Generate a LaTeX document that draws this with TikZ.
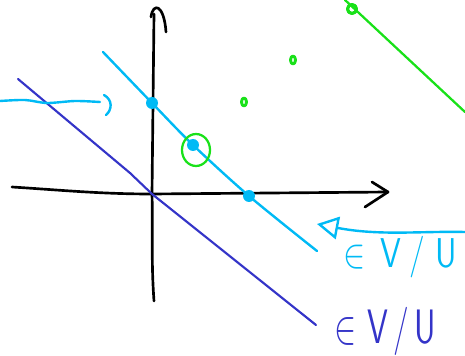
\documentclass[tikz,border=0pt]{standalone}
\usepackage{amsmath, amssymb}
\usetikzlibrary{arrows.meta}

\definecolor{skyline}{RGB}{0,186,245}
\definecolor{inkblue}{RGB}{52,52,200}
\definecolor{markgreen}{RGB}{25,225,25}

\begin{document}
\begin{tikzpicture}[x=0.75pt, y=-0.75pt, line cap=round, line join=round,
    axisline/.style={black, line width=2pt},
    skypen/.style={skyline, line width=1.8pt},
    inkpen/.style={inkblue, line width=1.6pt},
    greenpen/.style={markgreen, line width=1.7pt},
    skydot/.style={fill=skyline, draw=none},
    sktext/.style={font=\sffamily\fontsize{25}{25}\selectfont, inner sep=0pt, transform shape}]
    \useasboundingbox (0,0) rectangle (465,356);

    % Axes
    \coordinate (O) at (152,194);
    \draw[axisline] (12,187) .. controls (60,190) and (100,194) .. (O) -- (388,192);
    \draw[axisline] (372,182) -- (388,192) -- (365,207);
    \draw[axisline] (154,301) .. controls (151,260) and (153,230) .. (O) -- (154,14);
    \draw[axisline] (151,17) .. controls (153,2) and (164,4) .. (166,32);

    % Dark blue line through the origin
    \coordinate (d1) at (18,79);
    \coordinate (d2) at (316,325);
    \draw[inkpen] (d1) -- (130,173) -- (O) -- (d2);

    % Light blue line and its points
    \coordinate (p1) at (152,103);
    \coordinate (p2) at (193,145);
    \coordinate (p3) at (249,196);
    \draw[skypen] plot[smooth] coordinates {(103,52) (p1) (p2) (p3) (317,251)};
    \foreach \p in {p1,p2,p3} {
        \fill[skydot] (\p) circle (6);
    }
    \draw[greenpen] (196,150) ellipse (14 and 16);

    % Interval on the left
    \draw[skypen] plot[smooth] coordinates {(0,101) (25,100) (47,103) (75,101) (100,102)};
    \draw[skypen] (104,95) .. controls (113,100) and (112,110) .. (106,115);

    % Arrow to the label
    \coordinate (arrS) at (465,232);
    \coordinate (arrT) at (317,224);
    \draw[skypen, -{Triangle[open, length=16, width=17, line width=1.8pt]}]
        (arrS) .. controls (420,231) and (380,236) .. (arrT);

    % Labels
    \node[sktext, skyline, yscale=1.25] (lblsky) at (400,257) {$\in$\hspace{0.45em}V\hspace{0.25em}/\hspace{0.3em}U};
    \node[sktext, inkblue, yscale=1.45] (lblink) at (385,331) {$\in$\hspace{0.35em}V\hspace{0.15em}/\hspace{0.15em}U};

    % Green points and line
    \draw[greenpen, line width=2.2pt] (244,102) ellipse (2.5 and 4);
    \draw[greenpen, line width=2.2pt] (293,60) ellipse (2.5 and 4);
    \draw[greenpen] (345,0) -- (465,112);
    \draw[greenpen, line width=2.4pt] (352,9) circle (4.5);

\end{tikzpicture}
\end{document}
